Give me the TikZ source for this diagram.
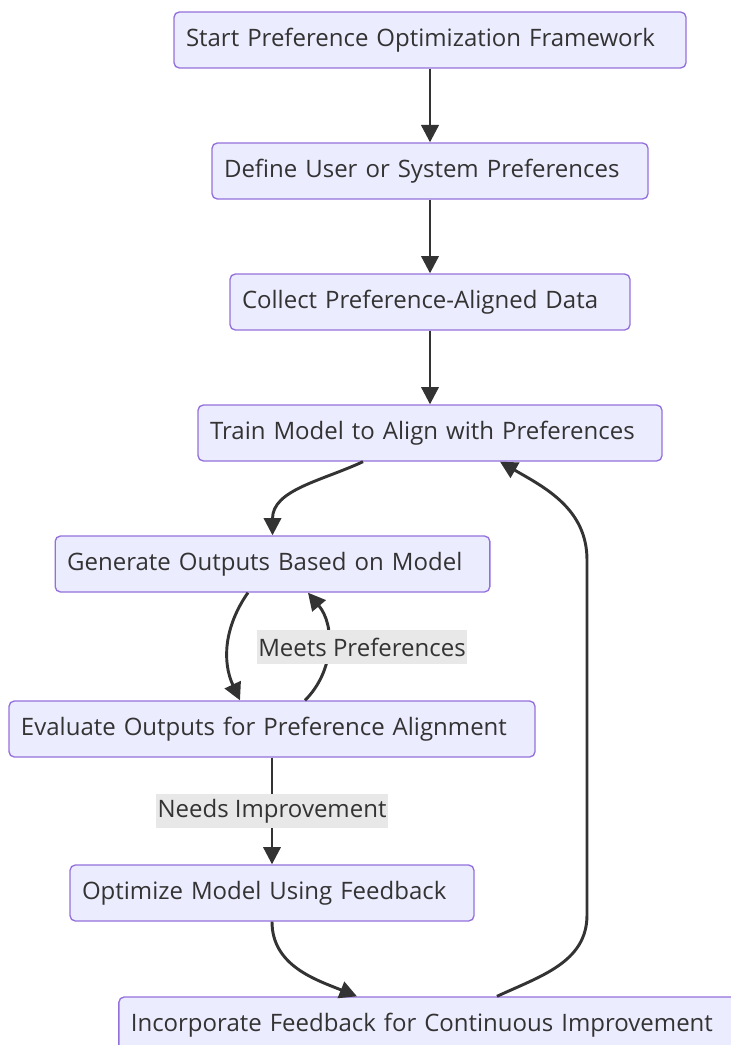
\documentclass[tikz,border=0pt]{standalone}
\usepackage{fontspec}
\setmainfont{Open Sans}
\usetikzlibrary{arrows.meta}
\definecolor{boxfill}{HTML}{ECECFF}
\definecolor{boxline}{HTML}{9370DB}
\definecolor{inkgray}{HTML}{333333}
\definecolor{lblfill}{HTML}{E8E8E8}

\begin{document}
\begin{tikzpicture}
[
x=0.75pt,y=-0.75pt,
stage/.style={draw=boxline,fill=boxfill,line width=1pt,rounded corners=4pt,
  text=inkgray,font=\fontsize{18}{21}\selectfont,align=left,
  text width=#1,inner xsep=9pt,minimum height=42pt},
flow/.style={draw=inkgray,line width=2.2pt,-{Triangle[length=13pt,width=13pt]}},
elabel/.style={fill=lblfill,text=inkgray,font=\fontsize{18}{21}\selectfont,
  inner xsep=1pt,inner ysep=0pt,minimum height=25.5pt},
]
\clip (0,0) rectangle (731,1045);

%Place the nodes
\node[stage=366pt] (start) at (430,40) {Start Preference Optimization Framework};
\node[stage=309pt] (define) at (430,171) {Define User or System Preferences};
\node[stage=282pt] (collect) at (430,302) {Collect Preference-Aligned Data};
\node[stage=330pt] (train) at (430,433) {Train Model to Align with Preferences};
\node[stage=308pt] (gen) at (272.5,564) {Generate Outputs Based on Model};
\node[stage=376.5pt] (eval) at (272,729) {Evaluate Outputs for Preference Alignment};
\node[stage=285pt] (opt) at (272,893) {Optimize Model Using Feedback};
\node[stage=448pt] (inc) at (429.5,1025) {Incorporate Feedback for Continuous Improvement};
\coordinate (rlow) at (587,915);
\coordinate (rhigh) at (587,560);

%Draw the connections
\draw[flow] (start) -- (define);
\draw[flow] (define) -- (collect);
\draw[flow] (collect) -- (train);
\draw[flow] ([xshift=-50.25pt]train.south) to[out=-155,in=90] (gen.north);
\draw[flow] ([xshift=-18.4pt]gen.south) to[out=-125,in=115] ([xshift=-24pt]eval.north);
\draw[flow] ([xshift=24.75pt]eval.north) to[out=45,in=-50] ([xshift=26.6pt]gen.south);
\draw[flow] (eval) -- (opt);
\draw[flow] (opt.south) to[out=-90,in=158] ([xshift=-54.4pt]inc.north);
\draw[flow] ([xshift=50.6pt]inc.north) to[out=25,in=-90] (rlow) -- (rhigh)
  to[out=90,in=-30] ([xshift=52.5pt]train.south);

%Edge labels
\node[elabel] (meets) at (362,647) {Meets Preferences};
\node[elabel] (needs) at (272,811) {Needs Improvement};
\end{tikzpicture}
\end{document}
